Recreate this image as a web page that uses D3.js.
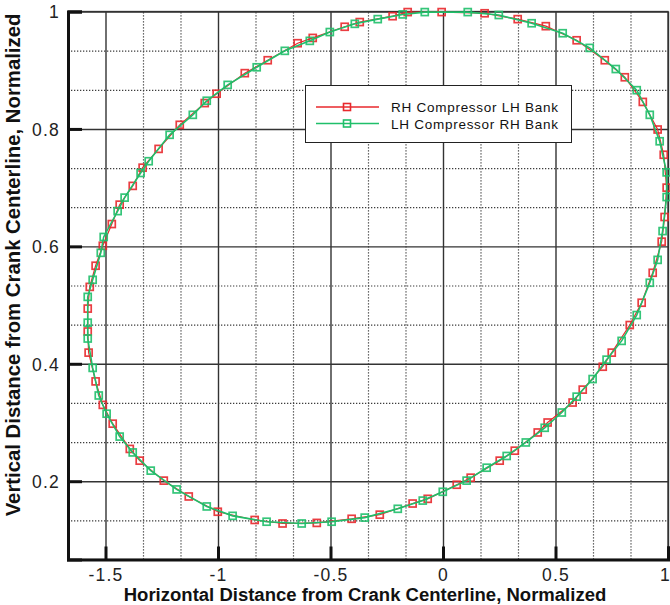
<!DOCTYPE html>
<html>
<head>
<meta charset="utf-8">
<script src="https://cdn.jsdelivr.net/npm/d3@7"></script>
<style>
  html, body { margin: 0; padding: 0; background: #fff; }
  svg { display: block; }
  text { font-family: "Liberation Sans", Arial, sans-serif; }
</style>
</head>
<body>
<svg id="chart" width="670" height="605"></svg>
<script>
// Crank-path traces, normalized distance from the crank centerline
const seriesNames = ["RH Compressor LH Bank", "LH Compressor RH Bank"];
const seriesColors = ["#e8282c", "#1fbf6a"];

const rhX = [-0.157, -0.006, 0.185, 0.332, 0.457, 0.594, 0.719, 0.808, 0.888, 0.954,
  0.981, 0.994, 0.985, 0.972, 0.932, 0.883, 0.830, 0.750, 0.710, 0.621,
  0.576, 0.465, 0.421, 0.319, 0.252, 0.123, 0.061, -0.068, -0.135, -0.281,
  -0.406, -0.561, -0.713, -0.837, -1.001, -1.130, -1.241, -1.348, -1.392, -1.468,
  -1.512, -1.544, -1.575, -1.579, -1.579, -1.570, -1.544, -1.512, -1.472, -1.437,
  -1.379, -1.335, -1.264, -1.170, -1.059, -1.006, -0.881, -0.779, -0.646, -0.579,
  -0.437, -0.370, -0.224];
const rhY = [0.999, 0.999, 0.997, 0.987, 0.975, 0.951, 0.917, 0.888, 0.846, 0.799,
  0.756, 0.700, 0.650, 0.608, 0.555, 0.504, 0.466, 0.419, 0.395, 0.356,
  0.334, 0.300, 0.283, 0.252, 0.235, 0.206, 0.194, 0.170, 0.162, 0.143,
  0.136, 0.129, 0.128, 0.134, 0.148, 0.174, 0.201, 0.235, 0.255, 0.298,
  0.330, 0.370, 0.419, 0.455, 0.494, 0.531, 0.567, 0.601, 0.638, 0.671,
  0.703, 0.734, 0.766, 0.807, 0.844, 0.860, 0.895, 0.917, 0.946, 0.955,
  0.974, 0.982, 0.992];

const lhX = [-0.081, 0.110, 0.248, 0.394, 0.532, 0.652, 0.768, 0.861, 0.919, 0.963,
  0.994, 0.994, 0.976, 0.954, 0.919, 0.861, 0.794, 0.727, 0.665, 0.594,
  0.528, 0.452, 0.368, 0.283, 0.194, 0.105, -0.001, -0.090, -0.201, -0.348,
  -0.495, -0.628, -0.784, -0.935, -1.050, -1.184, -1.299, -1.379, -1.437, -1.495,
  -1.530, -1.557, -1.579, -1.579, -1.579, -1.557, -1.521, -1.508, -1.446, -1.415,
  -1.344, -1.308, -1.215, -1.112, -1.050, -0.957, -0.828, -0.703, -0.592, -0.503,
  -0.392, -0.290, -0.179];
const lhY = [0.999, 0.999, 0.994, 0.980, 0.963, 0.938, 0.902, 0.866, 0.824, 0.779,
  0.726, 0.684, 0.626, 0.577, 0.538, 0.483, 0.439, 0.407, 0.374, 0.344,
  0.317, 0.291, 0.266, 0.243, 0.223, 0.201, 0.182, 0.167, 0.153, 0.138,
  0.131, 0.128, 0.131, 0.141, 0.157, 0.186, 0.218, 0.249, 0.276, 0.315,
  0.346, 0.393, 0.443, 0.470, 0.514, 0.543, 0.589, 0.616, 0.660, 0.683,
  0.725, 0.745, 0.790, 0.824, 0.848, 0.875, 0.905, 0.933, 0.950, 0.965,
  0.979, 0.987, 0.995];

// Axis ranges and tick marks
const xDomain = [-5 / 3, 1];
const yDomain = [1 / 15, 1];
const xMajorTicks = [-1.5, -1, -0.5, 0, 0.5, 1];
const yMajorTicks = [0.2, 0.4, 0.6, 0.8, 1];
const xMinorTicks = [-4 / 3, -7 / 6, -5 / 6, -2 / 3, -1 / 3, -1 / 6, 1 / 6, 1 / 3, 2 / 3, 5 / 6];
const yMinorTicks = [2 / 15, 4 / 15, 5 / 15, 7 / 15, 8 / 15, 10 / 15, 11 / 15, 13 / 15, 14 / 15];
const xTitle = "Horizontal Distance from Crank Centerline, Normalized";
const yTitle = "Vertical Distance from Crank Centerline, Normalized";

const svg = d3.select("#chart");
const plot = { left: 68, right: 668, top: 11.5, bottom: 559.5 };
const W = plot.right - plot.left, H = plot.bottom - plot.top;

const x = d3.scaleLinear().domain(xDomain).range([plot.left, plot.right]);
const y = d3.scaleLinear().domain(yDomain).range([plot.bottom, plot.top]);

svg.append("rect").attr("width", 670).attr("height", 605).attr("fill", "#fff");

// Minor grid (dotted)
const gMinor = svg.append("g");
gMinor.append("g")
  .attr("transform", `translate(0,${plot.bottom})`)
  .call(d3.axisBottom(x).tickValues(xMinorTicks).tickSize(-H).tickFormat(""));
gMinor.append("g")
  .attr("transform", `translate(${plot.left},0)`)
  .call(d3.axisLeft(y).tickValues(yMinorTicks).tickSize(-W).tickFormat(""));
gMinor.selectAll(".domain").remove();
gMinor.selectAll(".tick line")
  .attr("stroke", "#3c3c3c").attr("stroke-width", 1.2).attr("stroke-dasharray", "1.3,1.7");

// Major grid (solid)
const gMajor = svg.append("g");
gMajor.append("g")
  .attr("transform", `translate(0,${plot.bottom})`)
  .call(d3.axisBottom(x).tickValues(xMajorTicks).tickSize(-H).tickFormat(""));
gMajor.append("g")
  .attr("transform", `translate(${plot.left},0)`)
  .call(d3.axisLeft(y).tickValues(yMajorTicks).tickSize(-W).tickFormat(""));
gMajor.selectAll(".domain").remove();
gMajor.selectAll(".tick line").attr("stroke", "#333").attr("stroke-width", 1.4);

// Frame: thin top/right, heavy left/bottom
svg.append("rect")
  .attr("x", plot.left).attr("y", plot.top).attr("width", W).attr("height", H)
  .attr("fill", "none").attr("stroke", "#333").attr("stroke-width", 1.3);

// Axes with inward heavy ticks
const axisX = svg.append("g")
  .attr("transform", `translate(0,${plot.bottom})`)
  .call(d3.axisBottom(x).tickValues(xMajorTicks).tickSize(-13).tickPadding(21)
    .tickFormat(d => String(d)));
const axisY = svg.append("g")
  .attr("transform", `translate(${plot.left},0)`)
  .call(d3.axisLeft(y).tickValues(yMajorTicks).tickSize(-14).tickPadding(8)
    .tickFormat(d => String(d)));
[axisX, axisY].forEach(g => {
  g.select(".domain").attr("stroke", "#111").attr("stroke-width", 3);
  g.selectAll(".tick line").attr("stroke", "#111").attr("stroke-width", 3);
  g.selectAll(".tick text")
    .attr("fill", "#222").attr("font-size", 17.5).style("letter-spacing", "1.2px")
    .attr("font-family", "'Liberation Sans', Arial, sans-serif");
});
axisX.selectAll(".tick text").attr("dy", "0").attr("y", 21);
// the last label sits at the right frame edge; keep it inside the page
axisX.selectAll(".tick text").filter(d => d === 1).attr("x", -3);
axisY.selectAll(".tick text").attr("dy", "0.36em");

// Axis titles
const xt = svg.append("text")
  .attr("x", 365).attr("y", 601).attr("text-anchor", "middle")
  .attr("font-weight", "bold").attr("font-size", 16).attr("fill", "#111")
  .text(xTitle);
const yt = svg.append("text")
  .attr("transform", `translate(20,265) rotate(-90)`).attr("text-anchor", "middle")
  .attr("font-weight", "bold").attr("font-size", 16).attr("fill", "#111")
  .text(yTitle);
function fitWidth(t, target) {
  const len = t.node().getComputedTextLength();
  t.attr("font-size", 16 * target / len);
}
fitWidth(xt, 483);
fitWidth(yt, 503);

// Series
const series = [
  { name: seriesNames[0], color: seriesColors[0], pts: rhX.map((v, i) => [v, rhY[i]]) },
  { name: seriesNames[1], color: seriesColors[1], pts: lhX.map((v, i) => [v, lhY[i]]) }
];
const line = d3.line().x(d => x(d[0])).y(d => y(d[1])).curve(d3.curveLinearClosed);
const ms = 7;

series.forEach((s, k) => {
  const g = svg.append("g");
  g.append("path").attr("d", line(s.pts))
    .attr("fill", "none").attr("stroke", s.color).attr("stroke-width", k === 1 ? 1.6 : 1.2);
  g.selectAll("rect").data(s.pts).join("rect")
    .attr("x", d => x(d[0]) - ms / 2).attr("y", d => y(d[1]) - ms / 2)
    .attr("width", ms).attr("height", ms)
    .attr("fill", "none").attr("stroke", s.color).attr("stroke-width", 1.7)
    .attr("stroke-opacity", 0.9);
});

// Legend
const lg = svg.append("g");
lg.append("rect").attr("x", 305.5).attr("y", 85.5).attr("width", 266).attr("height", 57)
  .attr("fill", "#fff").attr("stroke", "#222").attr("stroke-width", 1);
series.forEach((s, i) => {
  const ly = 107 + i * 16.5;
  lg.append("line").attr("x1", 316).attr("x2", 379).attr("y1", ly).attr("y2", ly)
    .attr("stroke", s.color).attr("stroke-width", 1.3);
  lg.append("rect").attr("x", 347 - 3.5).attr("y", ly - 3.5).attr("width", 7).attr("height", 7)
    .attr("fill", "none").attr("stroke", s.color).attr("stroke-width", 1.6);
  lg.append("text").attr("x", 391).attr("y", ly + 5)
    .attr("font-size", 13.5).attr("fill", "#111")
    .attr("textLength", 167).attr("lengthAdjust", "spacing")
    .text(s.name);
});
</script>
</body>
</html>
